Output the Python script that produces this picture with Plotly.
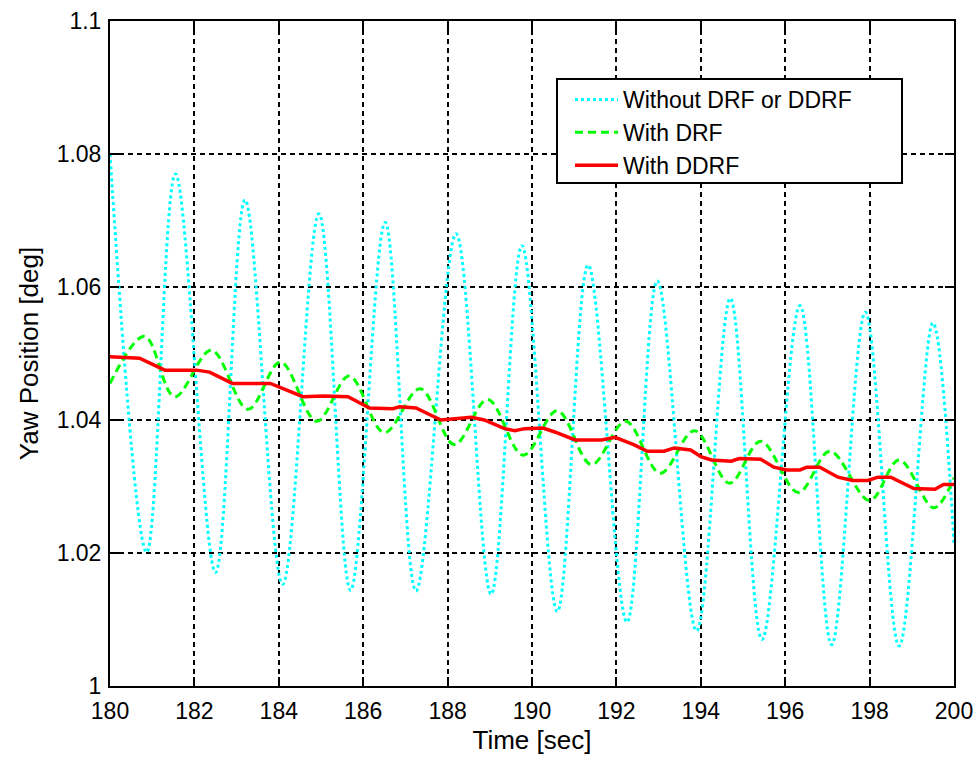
import plotly.graph_objects as go

# ---- data ----
t_without = [180.0, 180.87, 181.55, 182.5, 183.2, 184.09, 184.95, 185.7, 186.52, 187.25,
             188.2, 189.03, 189.76, 190.6, 191.33, 192.25, 192.97, 193.9, 194.7, 195.45,
             196.35, 197.1, 197.9, 198.7, 199.5, 200.0]
y_without = [1.080, 1.0201, 1.0770, 1.0171, 1.0731, 1.0153, 1.0710, 1.0144, 1.0697, 1.0143,
             1.0680, 1.0138, 1.0662, 1.0112, 1.0633, 1.0096, 1.0609, 1.0083, 1.0583, 1.0070,
             1.0572, 1.0062, 1.0562, 1.0060, 1.0546, 1.0215]

t_drf = [180.0, 180.82, 181.53, 182.4, 183.27, 184.04, 184.9, 185.67, 186.5, 187.35,
         188.16, 188.95, 189.79, 190.6, 191.41, 192.22, 193.04, 193.85, 194.68, 195.42,
         196.31, 197.06, 198.0, 198.7, 199.52, 200.0]
y_drf = [1.0455, 1.0526, 1.0435, 1.0505, 1.0416, 1.0487, 1.0398, 1.0466, 1.0381, 1.0447,
         1.0363, 1.0431, 1.0347, 1.0414, 1.0333, 1.0398, 1.0320, 1.0384, 1.0305, 1.0368,
         1.0291, 1.0353, 1.0279, 1.0340, 1.0268, 1.0313]

t_ddrf = [180.0, 180.7, 181.3, 182.05, 182.36, 182.9, 183.8, 184.57, 185.05, 185.64,
          186.15, 186.7, 186.86, 187.25, 187.84, 188.4, 188.56, 188.87, 189.35, 189.59,
          189.83, 190.26, 190.54, 191.02, 191.65, 191.97, 192.41, 192.73, 193.13, 193.37,
          193.76, 194.0, 194.25, 194.72, 194.91, 195.42, 195.73, 196.04, 196.35, 196.51,
          196.82, 197.25, 197.6, 197.96, 198.2, 198.5, 199.05, 199.55, 199.75, 200.0]
y_ddrf = [1.0495, 1.0493, 1.0475, 1.0475, 1.0472, 1.0455, 1.0455, 1.0435, 1.0436, 1.0435,
          1.0418, 1.0417, 1.0420, 1.0418, 1.0400, 1.0403, 1.0404, 1.0400, 1.0387, 1.0384,
          1.0387, 1.0388, 1.0382, 1.0370, 1.0370, 1.0374, 1.0363, 1.0353, 1.0353, 1.0358,
          1.0355, 1.0345, 1.0340, 1.0338, 1.0342, 1.0341, 1.0329, 1.0325, 1.0325, 1.0329,
          1.0329, 1.0314, 1.0309, 1.0309, 1.0314, 1.0314, 1.0297, 1.0296, 1.0303, 1.0303]

x_ticks = [180, 182, 184, 186, 188, 190, 192, 194, 196, 198, 200]
y_ticks = [1.0, 1.02, 1.04, 1.06, 1.08, 1.1]
y_tick_labels = ["1", "1.02", "1.04", "1.06", "1.08", "1.1"]

FONT = "Liberation Sans, Arial, sans-serif"

# figure geometry (page body margin removed below, so figure px == page px)
W, H = 977, 757
L, T, R, B = 110, 21, 23, 71
PW, PH = W - L - R, H - T - B

def px_x(p):  # page pixel -> paper x
    return (p - L) / PW

def px_y(p):  # page pixel -> paper y
    return (H - B - p) / PH

fig = go.Figure()
fig.add_trace(go.Scatter(
    x=t_without, y=y_without, mode="lines", name="Without DRF or DDRF",
    line=dict(color="#00FFFF", width=3, dash="3px,3px", shape="spline", smoothing=1.0)))
fig.add_trace(go.Scatter(
    x=t_drf, y=y_drf, mode="lines", name="With DRF",
    line=dict(color="#00FF00", width=3, dash="8px,5px", shape="spline", smoothing=1.0)))
fig.add_trace(go.Scatter(
    x=t_ddrf, y=y_ddrf, mode="lines", name="With DDRF",
    line=dict(color="#FF0000", width=3.5)))

axis_common = dict(
    showline=True, linecolor="black", linewidth=2, mirror="ticks",
    ticks="inside", ticklen=9, tickwidth=1.5, tickcolor="black",
    showgrid=True, gridcolor="black", gridwidth=1.5, griddash="5px,4px",
    zeroline=False, automargin=False,
    tickfont=dict(family=FONT, size=23, color="black"),
)

fig.update_xaxes(range=[180, 200], tickvals=x_ticks, ticktext=[str(v) for v in x_ticks],
                 ticklabelstandoff=3,
                 title=dict(text="Time [sec]", font=dict(family=FONT, size=26, color="black"),
                            standoff=8),
                 **axis_common)
fig.update_yaxes(range=[1.0, 1.1], tickvals=y_ticks, ticktext=y_tick_labels,
                 ticklabelstandoff=2,
                 title=dict(text="Yaw Position [deg]", font=dict(family=FONT, size=26, color="black"),
                            standoff=11),
                 **axis_common)

# legend frame (MATLAB-style wide box)
fig.add_shape(type="rect", xref="paper", yref="paper",
              x0=px_x(557), x1=px_x(902), y0=px_y(183), y1=px_y(79),
              line=dict(color="black", width=2), fillcolor="white", layer="above")

fig.update_layout(
    width=W, height=H,
    margin=dict(l=L, r=R, t=T, b=B),
    paper_bgcolor="white", plot_bgcolor="white",
    showlegend=True,
    legend=dict(x=px_x(570), y=px_y(78), xanchor="left", yanchor="top",
                bgcolor="rgba(0,0,0,0)", borderwidth=0,
                font=dict(family=FONT, size=23, color="black"),
                itemwidth=43, tracegroupgap=0),
)

fig.write_html("out.html",
               config={"displayModeBar": False},
               post_script="document.body.style.margin='0';document.body.style.overflow='hidden';")
